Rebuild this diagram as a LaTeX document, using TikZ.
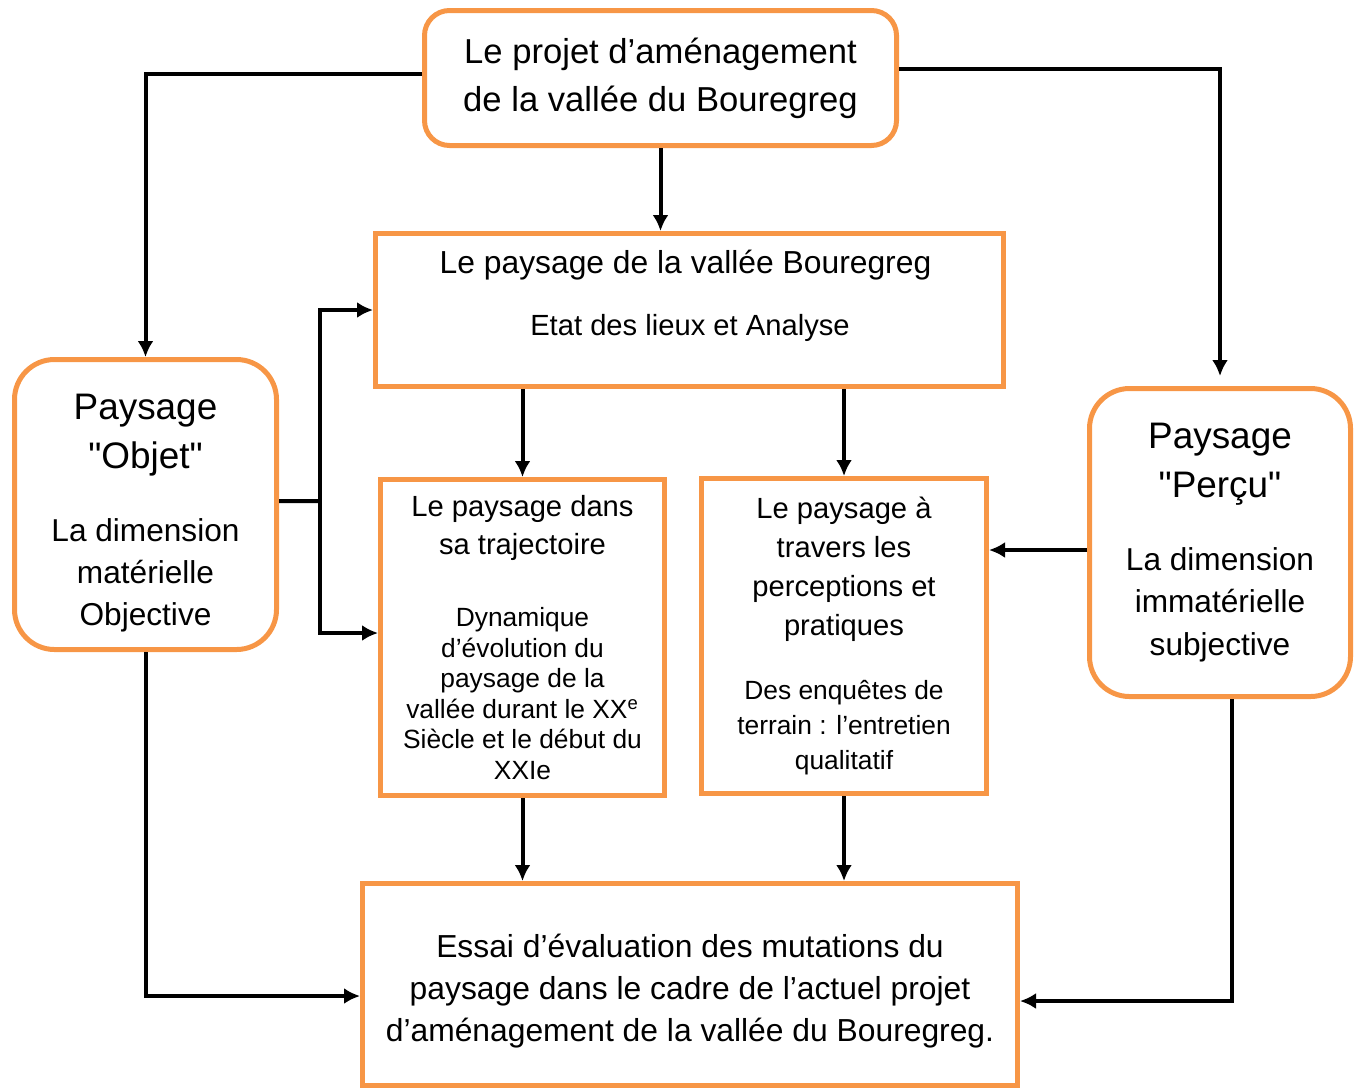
\documentclass[tikz,border=0pt]{standalone}
\usepackage{fontspec}
\setmainfont{Liberation Sans}
\usetikzlibrary{arrows.meta}
\definecolor{orangeBord}{HTML}{F79646}
\newcommand{\taille}[2]{\fontsize{#1}{#2}\selectfont}

\begin{document}
\begin{tikzpicture}[
    boite/.style={draw=orangeBord, line width=0.1cm, align=center, inner sep=0pt},
    arrondi/.style={boite, rounded corners=0.8cm},
    lien/.style={line width=0.08cm, ->, >={Latex[length=0.32cm, width=0.32cm]}},
    trait/.style={line width=0.08cm},
    every node/.style={
        text centered,
        }
        ]
    \useasboundingbox (0,0) rectangle (27.2,-21.78);

    \node[boite, rounded corners=0.5cm, minimum width=9.44cm, minimum height=2.7cm, font=\taille{19.7}{27.3}] (projet) at (13.21,-1.56) {Le projet d’aménagement\\de la vallée du Bouregreg};

    \node[boite, minimum width=12.56cm, minimum height=3.06cm] (paysage) at (13.79,-6.2) {};
    \node[font=\taille{18.1}{23}] (paysageTitre) at (13.71,-5.3) {Le paysage de la vallée Bouregreg};
    \node[font=\taille{16.6}{21}] (etat) at (13.8,-6.55) {Etat des lieux et Analyse};

    \node[arrondi, minimum width=5.24cm, minimum height=5.8cm, font=\taille{18}{24}] (objet) at (2.91,-10.09) {\mbox{}\\ \taille{21}{28}Paysage\\[4pt] \taille{21}{28}\textquotedbl Objet\textquotedbl\\[17.5pt] La dimension\\ matérielle\\ Objective};
    \node[arrondi, minimum width=5.22cm, minimum height=6.16cm, font=\taille{18}{24}] (percu) at (24.4,-10.85) {\taille{21}{28}Paysage\\[4pt] \taille{21}{28}\textquotedbl Perçu\textquotedbl\\[17.5pt] La dimension\\ immatérielle\\ subjective};

    \node[boite, minimum width=5.68cm, minimum height=6.32cm, font=\taille{15}{17.4}] (trajectoire) at (10.45,-12.75) {\taille{16.6}{21}Le paysage dans\\[4.2pt] \taille{16.6}{21}sa trajectoire\\[23.6pt] Dynamique\\ d’évolution du\\ paysage de la\\ vallée durant le XX\textsuperscript{e}\\ Siècle et le début du\\ XXIe};
    \node[boite, minimum width=5.7cm, minimum height=6.3cm, font=\taille{15}{19.9}] (perceptions) at (16.88,-12.72) {\taille{16.6}{21}Le paysage à\\[2.3pt] \taille{16.6}{21}travers les\\[2.3pt] \taille{16.6}{21}perceptions et\\[2.3pt] \taille{16.6}{21}pratiques\\[16.5pt] Des enquêtes de\\ terrain : l’entretien\\ qualitatif};

    \node[boite, minimum width=13.1cm, minimum height=4.04cm, font=\taille{18.1}{23.9}] (essai) at (13.8,-19.69) {\mbox{}\\[-2.7pt] Essai d’évaluation des mutations du\\ paysage dans le cadre de l’actuel projet\\ d’aménagement de la vallée du Bouregreg.};

    \coordinate (jonction) at (6.4,-10.02);
    \coordinate (percuOuest) at ([yshift=-0.15cm]percu.west);

    \draw[lien] ([yshift=0.08cm]projet.west) -| (objet.north);
    \draw[lien, shorten >=0.2cm] ([yshift=0.18cm]projet.east) -| (percu.north);
    \draw[lien] (projet.south) -- (projet.south |- paysage.north);
    \draw[lien] (trajectoire.north |- paysage.south) -- (trajectoire.north);
    \draw[lien] (perceptions.north |- paysage.south) -- (perceptions.north);
    \draw[trait] ([yshift=0.07cm]objet.east) -- (jonction);
    \draw[lien] (jonction) |- (paysage.west);
    \draw[lien] (jonction) |- ([yshift=0.09cm]trajectoire.west);
    \draw[lien] (percuOuest) -- (percuOuest -| perceptions.east);
    \draw[lien] (trajectoire.south) -- (trajectoire.south |- essai.north);
    \draw[lien] (perceptions.south) -- (perceptions.south |- essai.north);
    \draw[lien] (objet.south) |- ([yshift=-0.23cm]essai.west);
    \draw[lien] ([xshift=0.24cm]percu.south) |- ([yshift=-0.33cm]essai.east);
\end{tikzpicture}
\end{document}
